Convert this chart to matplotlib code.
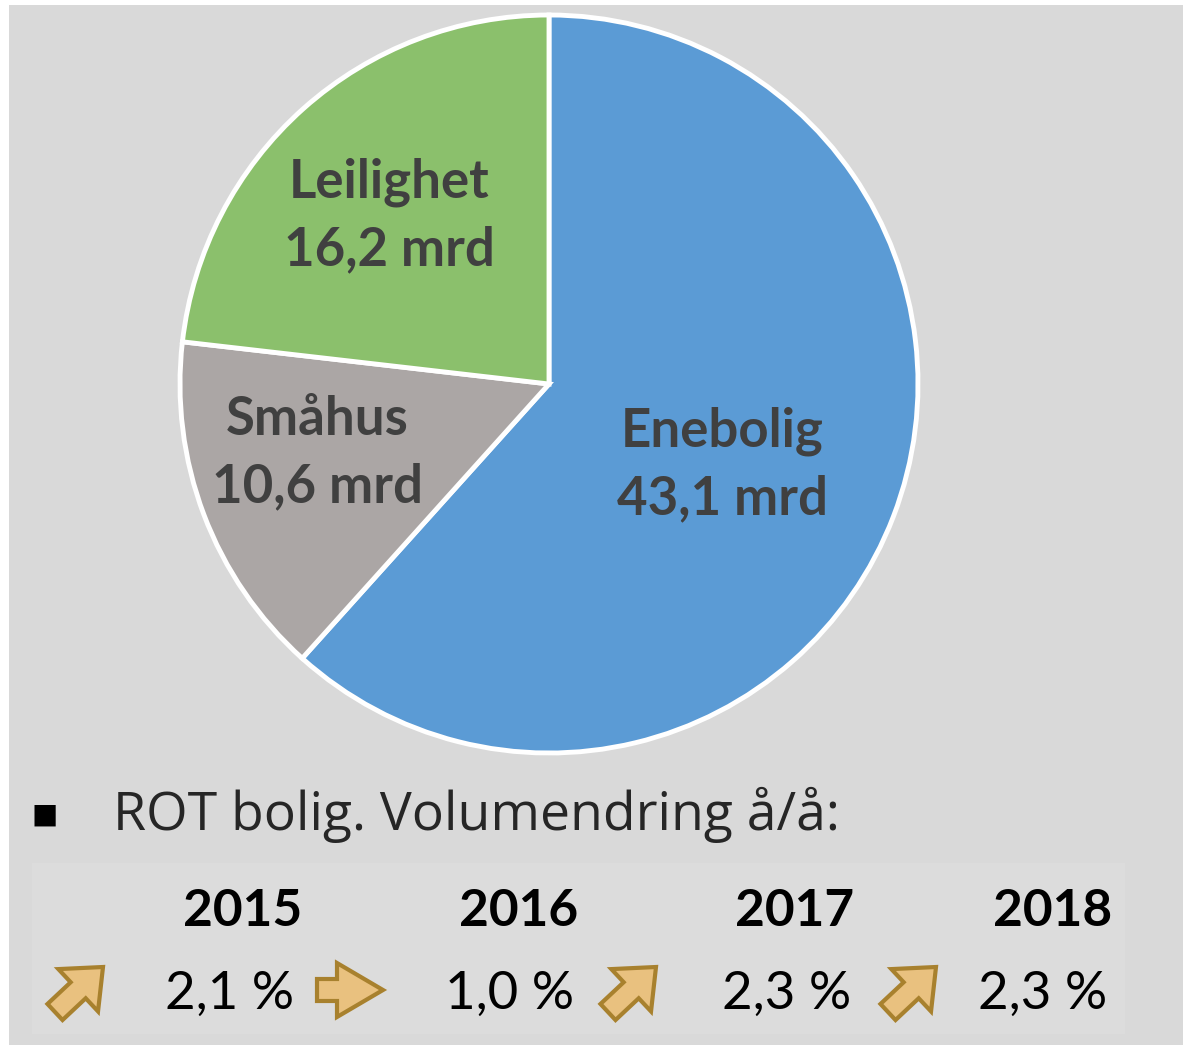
import numpy as np
import matplotlib.pyplot as plt
from matplotlib.patches import Rectangle, FancyArrow

# === Data ===
segments = ["Enebolig", "Småhus", "Leilighet"]
values = [43.1, 10.6, 16.2]
value_labels = ["43,1 mrd", "10,6 mrd", "16,2 mrd"]
colors = ["#5b9bd5", "#aba6a5", "#8bc06c"]
# label centres (fraction of radius, angle in degrees)
label_pos = [(0.518, -25.1), (0.656, 196.6), (0.629, 133.6)]

years = ["2015", "2016", "2017", "2018"]
changes = ["2,1 %", "1,0 %", "2,3 %", "2,3 %"]
trend = ["up", "flat", "up", "up"]

W, H = 1183, 1045
plt.rcParams['font.family'] = ['Lato', 'DejaVu Sans']
fig = plt.figure(figsize=(W / 100, H / 100), dpi=100)
fig.patch.set_facecolor("white")

# overlay in pixel coords for background, text and arrows
bg = fig.add_axes([0, 0, 1, 1])
bg.set_xlim(0, W)
bg.set_ylim(H, 0)
bg.axis("off")
bg.add_patch(Rectangle((9, 5), W, H, facecolor="#d9d9d9", edgecolor="none"))
bg.add_patch(Rectangle((32, 863), 1093, 171, facecolor="#dcdcdc", edgecolor="none"))

# === Pie ===
cx, cy, r = 549, 384, 369
ax = fig.add_axes([(cx - r) / W, 1 - (cy + r) / H, 2 * r / W, 2 * r / H])
wedges, _ = ax.pie(values, colors=colors, startangle=90, counterclock=False,
                   radius=1, wedgeprops=dict(edgecolor="white", linewidth=3.5))
ax.set_xlim(-1, 1)
ax.set_ylim(-1, 1)
ax.set_aspect("auto")

for name, lab, (d, ang) in zip(segments, value_labels, label_pos):
    x, y = d * np.cos(np.deg2rad(ang)), d * np.sin(np.deg2rad(ang))
    ax.text(x, y + 0.092, name, ha="center", va="center", fontsize=38,
            fontweight="bold", color="#404040")
    ax.text(x, y - 0.092, lab, ha="center", va="center", fontsize=38,
            fontweight="bold", color="#404040")

# === Bottom text ===
bg.text(45, 815, "■", ha="center", va="center", fontsize=20, color="black",
        family=["DejaVu Sans"])
bg.text(113, 815, "ROT bolig. Volumendring å/å:", ha="left", va="center",
        fontsize=38.5, color="#262626", family=["Open Sans", "DejaVu Sans"])

year_x = [243, 519, 795, 1053]
pct_x = [230, 510, 787, 1043]
arrow_x = [75, 350, 628, 908]
for i in range(4):
    bg.text(year_x[i], 912, years[i], ha="center", va="center", fontsize=37,
            fontweight="bold", color="black")
    bg.text(pct_x[i], 994, changes[i], ha="center", va="center", fontsize=38,
            color="black")
    x0 = arrow_x[i]
    if trend[i] == "up":
        a = FancyArrow(x0 - 20, 1012, 48, -45, width=22, head_width=58,
                       head_length=34, length_includes_head=True,
                       facecolor="#e9c17f", edgecolor="#a8812e", linewidth=3)
    else:
        a = FancyArrow(x0 - 33, 990, 66, 0, width=22, head_width=54,
                       head_length=46, length_includes_head=True,
                       facecolor="#e9c17f", edgecolor="#a8812e", linewidth=3)
    bg.add_patch(a)

plt.savefig("out.png", dpi=100)
